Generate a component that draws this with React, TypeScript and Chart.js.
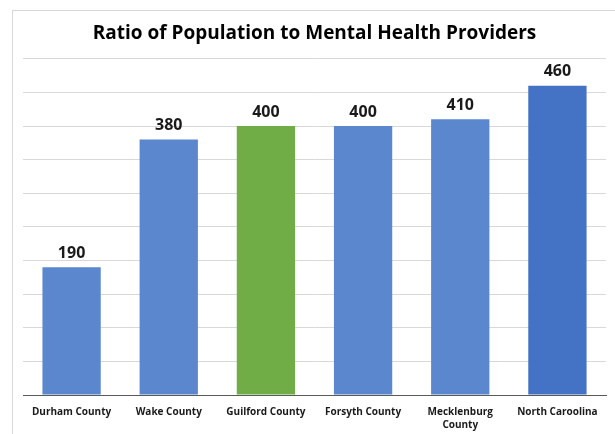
import React, { useEffect, useRef } from "react";
import { Chart, registerables } from "chart.js";

Chart.register(...registerables);

const categories: (string | string[])[] = [
  "Durham County",
  "Wake County",
  "Guilford County",
  "Forsyth County",
  ["Mecklenburg", "County"],
  "North Caroolina",
];
const ratios = [190, 380, 400, 400, 410, 460];
const barColors = ["#5B87CF", "#5B87CF", "#70AD47", "#5B87CF", "#5B87CF", "#4472C4"];
const titleText = "Ratio of Population to Mental Health Providers";
const yMax = 500;
const yStep = 50;

const FONT = "'Open Sans', 'Noto Sans', sans-serif";

const framePlugin = {
  id: "frame",
  beforeDraw(chart: any) {
    const ctx = chart.ctx;
    ctx.save();
    ctx.fillStyle = "#ffffff";
    ctx.fillRect(0, 0, chart.width, chart.height);
    ctx.strokeStyle = "#d9d9d9";
    ctx.lineWidth = 1;
    ctx.strokeRect(12.5, 10.5, chart.width + 20, chart.height + 20);
    ctx.restore();
  },
};

const valueLabelPlugin = {
  id: "valueLabels",
  afterDatasetsDraw(chart: any) {
    const ctx = chart.ctx;
    const meta = chart.getDatasetMeta(0);
    ctx.save();
    ctx.font = `bold 16px ${FONT}`;
    ctx.fillStyle = "#1a1a1a";
    ctx.textAlign = "center";
    ctx.textBaseline = "alphabetic";
    meta.data.forEach((bar: any, i: number) => {
      ctx.fillText(String(chart.data.datasets[0].data[i]), bar.x, bar.y - 9.5);
    });
    ctx.restore();
  },
};

export default function App() {
  const ref = useRef<HTMLCanvasElement | null>(null);
  useEffect(() => {
    if (!ref.current) return;
    const chart = new Chart(ref.current, {
      type: "bar",
      data: {
        labels: categories,
        datasets: [
          {
            data: ratios,
            backgroundColor: barColors,
            borderWidth: 0,
            barPercentage: 0.6,
            categoryPercentage: 1,
          },
        ],
      },
      options: {
        animation: false,
        responsive: false,
        maintainAspectRatio: false,
        layout: { padding: { left: 23, right: 9, top: 1, bottom: -8 } },
        plugins: {
          legend: { display: false },
          tooltip: { enabled: false },
          title: {
            display: true,
            text: titleText,
            color: "#000000",
            font: { family: FONT, size: 19, weight: "bold" },
            padding: { top: 21, bottom: 14 },
          },
        },
        scales: {
          x: {
            grid: { display: false, drawTicks: false },
            border: { display: true, color: "#595959", width: 1 },
            ticks: {
              color: "#1a1a1a",
              font: { family: FONT, size: 10, weight: "bold", lineHeight: 1.35 },
              padding: 10,
              autoSkip: false,
              maxRotation: 0,
              minRotation: 0,
            },
          },
          y: {
            min: 0,
            max: yMax,
            grid: { color: "#d9d9d9", drawTicks: false, lineWidth: 1 },
            border: { display: false },
            ticks: { display: false, stepSize: yStep },
          },
        },
      },
      plugins: [framePlugin, valueLabelPlugin],
    });
    return () => chart.destroy();
  }, []);
  return (
    <div style={{ position: "fixed", left: 0, top: 0, width: 615, height: 434, background: "#fff" }}>
      <canvas ref={ref} width={615} height={434} style={{ width: 615, height: 434 }} />
    </div>
  );
}
